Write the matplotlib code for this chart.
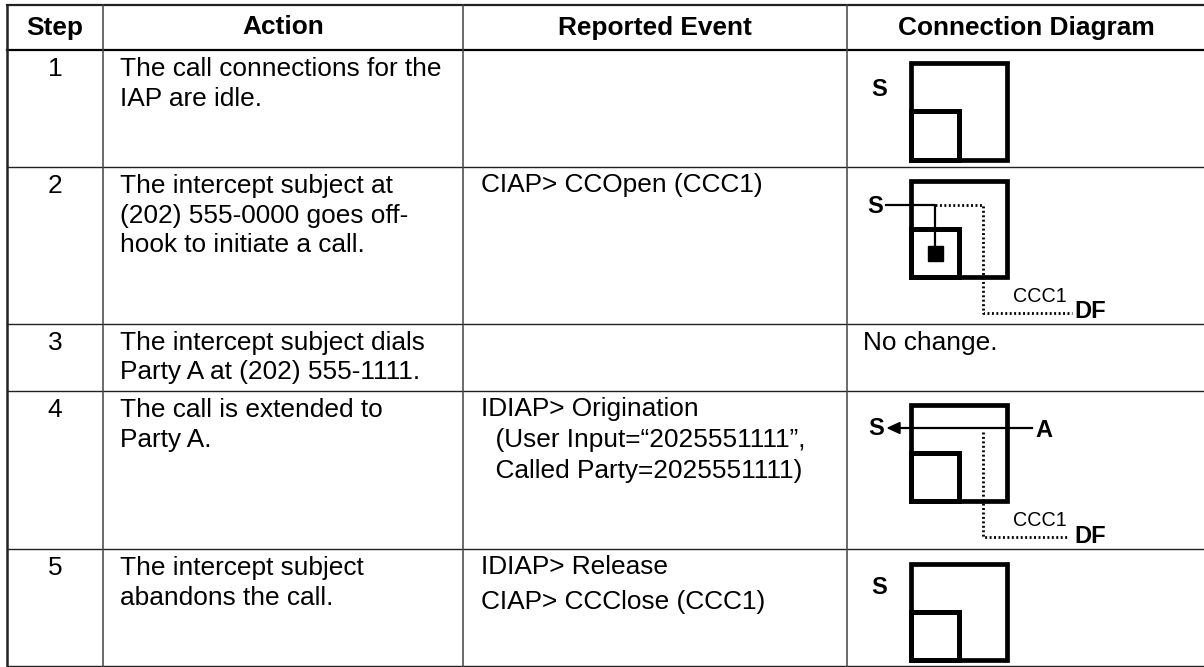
import matplotlib
matplotlib.use("Agg")
import matplotlib.pyplot as plt
from matplotlib.patches import Rectangle, Polygon

W, H = 1204, 667
headers = ["Step", "Action", "Reported Event", "Connection Diagram"]
steps = ["1", "2", "3", "4", "5"]
actions = [
    ["The call connections for the", "IAP are idle."],
    ["The intercept subject at", "(202) 555-0000 goes off-", "hook to initiate a call."],
    ["The intercept subject dials", "Party A at (202) 555-1111."],
    ["The call is extended to", "Party A."],
    ["The intercept subject", "abandons the call."],
]
events = [
    [],
    ["CIAP> CCOpen (CCC1)"],
    [],
    ["IDIAP> Origination", "  (User Input=\u201c2025551111\u201d,", "  Called Party=2025551111)"],
    ["IDIAP> Release", "CIAP> CCClose (CCC1)"],
]
col_x = [6.5, 103, 463, 847, 1204]
row_y = [5, 50, 167, 324, 391, 549, 665.5]
dark = "#222222"

plt.rcParams["font.family"] = ["Liberation Sans", "DejaVu Sans"]
fig = plt.figure(figsize=(W / 100, H / 100), dpi=100)
ax = fig.add_axes([0, 0, 1, 1])
ax.set_xlim(0, W)
ax.set_ylim(H, 0)
ax.axis("off")

# grid
ax.plot([col_x[0], col_x[-1]], [row_y[0]] * 2, color=dark, lw=1.6)
ax.plot([col_x[0], col_x[-1]], [row_y[1]] * 2, color="black", lw=1.6)
for y in row_y[2:]:
    ax.plot([col_x[0], col_x[-1]], [y, y], color=dark, lw=1.0)
ax.plot([col_x[0]] * 2, [row_y[0], row_y[-1]], color=dark, lw=1.8)
for x in col_x[1:-1]:
    ax.plot([x, x], [row_y[0], row_y[-1]], color="#444444", lw=1.1)

FS = 18.9
header_x = [55, 283, 655, 1026.5]
for i, h in enumerate(headers):
    ax.text(header_x[i], 34.5, h, ha="center", va="baseline",
            fontsize=FS, fontweight="bold", color="black")

LINE_GAP = [30, 29.5, 28.5, 30, 30]
EVENT_GAP = [30, 30, 30, 31, 35]
BASE = 26
for r in range(5):
    top = row_y[r + 1]
    ax.text(55, top + BASE, steps[r], ha="center", va="baseline",
            fontsize=FS, color="black")
    for j, line in enumerate(actions[r]):
        ax.text(120, top + BASE + j * LINE_GAP[r], line, ha="left", va="baseline", fontsize=FS, color="black")
    for j, line in enumerate(events[r]):
        ax.text(481, top + BASE - 1 + j * EVENT_GAP[r], line, ha="left", va="baseline", fontsize=FS, color="black")

ax.text(863, row_y[3] + BASE, "No change.", ha="left", va="baseline", fontsize=FS, color="black")


def boxes(t):
    ax.add_patch(Rectangle((910.5, t), 96.5, 96.5, fill=False, ec="black", lw=3.4))
    ax.add_patch(Rectangle((910.5, t + 48), 48, 48.5, fill=False, ec="black", lw=3.6))


def label(x, y, s, size=17):
    ax.text(x, y, s, ha="center", va="center_baseline", fontsize=size, fontweight="bold", color="black")


DOT = (0, (0.7, 0.9))

# row 1
boxes(63)
label(879, 87, "S")

# row 2
boxes(180.5)
label(875, 204, "S")
ax.plot([886, 935, 935], [204.5, 204.5, 253], color="black", lw=1.6)
ax.add_patch(Rectangle((928, 246), 14.5, 14.5, color="black"))
ax.plot([935, 983, 983, 1072], [204.5, 204.5, 313, 313], color="black", lw=2.0, linestyle=DOT)
ax.text(1040, 297, "CCC1", ha="center", va="center", fontsize=14.2, color="black")
label(1090, 309, "DF")

# row 4
boxes(404.5)
label(876, 426, "S")
label(1044, 428, "A")
ax.plot([892, 1032], [428, 428], color="black", lw=1.6)
ax.add_patch(Polygon([[888, 428], [900, 422.5], [900, 433.5]], color="black"))
ax.plot([983, 983, 1067], [432, 537, 537], color="black", lw=2.0, linestyle=DOT)
ax.text(1040, 520, "CCC1", ha="center", va="center", fontsize=14.2, color="black")
label(1090, 534, "DF")

# row 5
boxes(563.5)
label(879, 585, "S")

fig.savefig("out.png", dpi=100)
